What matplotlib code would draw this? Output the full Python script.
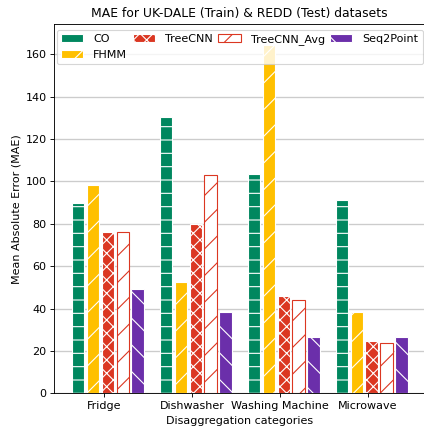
import matplotlib
matplotlib.use("Agg")
import matplotlib.pyplot as plt
import numpy as np

categories = ["Fridge", "Dishwasher", "Washing Machine", "Microwave"]
series_names = ["CO", "FHMM", "TreeCNN", "TreeCNN_Avg", "Seq2Point"]
co = [90.0, 130.4, 103.6, 91.0]
fhmm = [98.1, 52.4, 164.5, 38.3]
treecnn = [76.1, 79.7, 46.1, 24.7]
treecnn_avg = [76.0, 103.0, 44.1, 23.8]
seq2point = [49.3, 38.6, 26.5, 26.5]

values = [co, fhmm, treecnn, treecnn_avg, seq2point]
green, yellow, red, purple = "#00875F", "#FFC000", "#DB3722", "#6B2FAA"
styles = [
    dict(facecolor=green, edgecolor="white", hatch="-"),
    dict(facecolor=yellow, edgecolor="white", hatch="/"),
    dict(facecolor=red, edgecolor="white", hatch="xx"),
    dict(facecolor="white", edgecolor=red, hatch="/"),
    dict(facecolor=purple, edgecolor="white", hatch="\\"),
]

fig = plt.figure(figsize=(424 / 80, 430 / 80), dpi=80)
ax = fig.add_axes([0.1285, 0.0853, 0.874, 0.859])

x = np.arange(len(categories))
pitch = 0.17
width = 0.142
for i, (name, vals, st) in enumerate(zip(series_names, values, styles)):
    ax.bar(x + (i - 1.75) * pitch, vals, width, label=name, linewidth=1, zorder=3, **st)

ax.set_ylim(0, 174.3)
ax.set_xlim(-0.564, 3.649)
ax.set_xticks(x)
ax.set_xticklabels(categories)
ax.yaxis.grid(True, color="#cccccc", linewidth=1.2, zorder=0)
ax.set_axisbelow(True)
ax.set_title("MAE for UK-DALE (Train) & REDD (Test) datasets", fontsize=11.1)
ax.set_xlabel("Disaggregation categories")
ax.set_ylabel("Mean Absolute Error (MAE)")
ax.legend(loc="upper center", ncol=4, columnspacing=0.5, handletextpad=0.9,
          handlelength=2.0)

fig.savefig("out.png", dpi=80)
